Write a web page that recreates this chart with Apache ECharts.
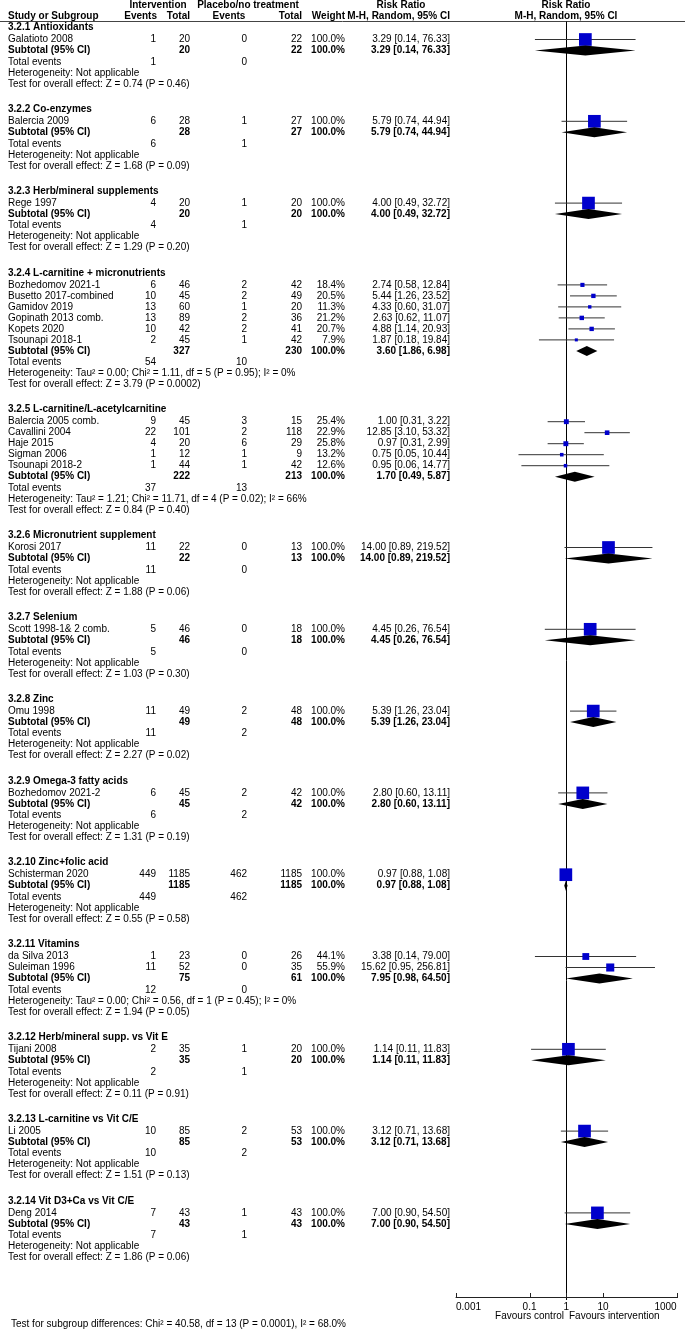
<!DOCTYPE html>
<html><head><meta charset="utf-8">
<script src="https://cdn.jsdelivr.net/npm/echarts@6/dist/echarts.min.js"></script>
<style>html,body{margin:0;padding:0;background:#fff}#c{width:685px;height:1329px}</style>
</head><body><div id="c"></div>
<script>
// ---------------- DATA ----------------
const subgroupNames = ['3.2.1 Antioxidants','3.2.2 Co-enzymes','3.2.3 Herb/mineral supplements','3.2.4 L-carnitine + micronutrients','3.2.5 L-carnitine/L-acetylcarnitine','3.2.6 Micronutrient supplement','3.2.7 Selenium','3.2.8 Zinc','3.2.9 Omega-3 fatty acids','3.2.10 Zinc+folic acid','3.2.11 Vitamins','3.2.12 Herb/mineral supp. vs Vit E','3.2.13 L-carnitine vs Vit C/E','3.2.14 Vit D3+Ca vs Vit C/E'];
const studyNames = ['Galatioto 2008','Balercia 2009','Rege 1997','Bozhedomov 2021-1','Busetto 2017-combined','Gamidov 2019','Gopinath 2013 comb.','Kopets 2020','Tsounapi 2018-1','Balercia 2005 comb.','Cavallini 2004','Haje 2015','Sigman 2006','Tsounapi 2018-2','Korosi 2017','Scott 1998-1& 2 comb.','Omu 1998','Bozhedomov 2021-2','Schisterman 2020','da Silva 2013','Suleiman 1996','Tijani 2008','Li 2005','Deng 2014'];
const studyGroup = [0,1,2,3,3,3,3,3,3,4,4,4,4,4,5,6,7,8,9,10,10,11,12,13];
const intEvents = [1,6,4,6,10,13,13,10,2,9,22,4,1,1,11,5,11,6,449,1,11,2,10,7];
const intTotal = [20,28,20,46,45,60,89,42,45,45,101,20,12,44,22,46,49,45,1185,23,52,35,85,43];
const ctlEvents = [0,1,1,2,2,1,2,2,1,3,2,6,1,1,0,0,2,2,462,0,0,1,2,1];
const ctlTotal = [22,27,20,42,49,20,36,41,42,15,118,29,9,42,13,18,48,42,1185,26,35,20,53,43];
const studyWeight = [100,100,100,18.4,20.5,11.3,21.2,20.7,7.9,25.4,22.9,25.8,13.2,12.6,100,100,100,100,100,44.1,55.9,100,100,100];
const studyRR = [3.29,5.79,4.00,2.74,5.44,4.33,2.63,4.88,1.87,1.00,12.85,0.97,0.75,0.95,14.00,4.45,5.39,2.80,0.97,3.38,15.62,1.14,3.12,7.00];
const studyLow = [0.14,0.74,0.49,0.58,1.26,0.60,0.62,1.14,0.18,0.31,3.10,0.31,0.05,0.06,0.89,0.26,1.26,0.60,0.88,0.14,0.95,0.11,0.71,0.90];
const studyHigh = [76.33,44.94,32.72,12.84,23.52,31.07,11.07,20.93,19.84,3.22,53.32,2.99,10.44,14.77,219.52,76.54,23.04,13.11,1.08,79.00,256.81,11.83,13.68,54.50];
const subIntTotal = [20,28,20,327,222,22,46,49,45,1185,75,35,85,43];
const subCtlTotal = [22,27,20,230,213,13,18,48,42,1185,61,20,53,43];
const subIntEvents = [1,6,4,54,37,11,5,11,6,449,12,2,10,7];
const subCtlEvents = [0,1,1,10,13,0,0,2,2,462,0,1,2,1];
const subRR = [3.29,5.79,4.00,3.60,1.70,14.00,4.45,5.39,2.80,0.97,7.95,1.14,3.12,7.00];
const subLow = [0.14,0.74,0.49,1.86,0.49,0.89,0.26,1.26,0.60,0.88,0.98,0.11,0.71,0.90];
const subHigh = [76.33,44.94,32.72,6.98,5.87,219.52,76.54,23.04,13.11,1.08,64.50,11.83,13.68,54.50];
const heterogeneity = ['Not applicable','Not applicable','Not applicable','Tau\u00b2 = 0.00; Chi\u00b2 = 1.11, df = 5 (P = 0.95); I\u00b2 = 0%','Tau\u00b2 = 1.21; Chi\u00b2 = 11.71, df = 4 (P = 0.02); I\u00b2 = 66%','Not applicable','Not applicable','Not applicable','Not applicable','Not applicable','Tau\u00b2 = 0.00; Chi\u00b2 = 0.56, df = 1 (P = 0.45); I\u00b2 = 0%','Not applicable','Not applicable','Not applicable'];
const overallEffect = ['Z = 0.74 (P = 0.46)','Z = 1.68 (P = 0.09)','Z = 1.29 (P = 0.20)','Z = 3.79 (P = 0.0002)','Z = 0.84 (P = 0.40)','Z = 1.88 (P = 0.06)','Z = 1.03 (P = 0.30)','Z = 2.27 (P = 0.02)','Z = 1.31 (P = 0.19)','Z = 0.55 (P = 0.58)','Z = 1.94 (P = 0.05)','Z = 0.11 (P = 0.91)','Z = 1.51 (P = 0.13)','Z = 1.86 (P = 0.06)'];
const subgroupDiff = 'Test for subgroup differences: Chi\u00b2 = 40.58, df = 13 (P = 0.0001), I\u00b2 = 68.0%';
const axisTickValues = [0.001, 0.1, 1, 10, 1000];
const axisTickLabels = ['0.001', '0.1', '1', '10', '1000'];

// ---------------- LAYOUT ----------------
const FONT = '"Liberation Sans", Arial, sans-serif';
const FS = 10;
const COL = {name: 8, ie: 156, it: 190, ce: 247, ct: 302, w: 345, ci: 450};
const Y0 = 27.5, H_HEAD = 12, H_ROW = 11, H_SUB = 11.5, H_GAP = 25.3;
const AXIS_Y = 1297;

const texts = []; // {x,y,t,align,bold}
function T(x, y, t, align, bold) { texts.push({x, y, t, align: align || 'left', bold: !!bold}); }
const ci = (r, l, h) => r.toFixed(2) + ' [' + l.toFixed(2) + ', ' + h.toFixed(2) + ']';

// headers
T(158, 5, 'Intervention', 'center', true);
T(248, 5, 'Placebo/no treatment', 'center', true);
T(401, 5, 'Risk Ratio', 'center', true);
T(566, 5, 'Risk Ratio', 'center', true);
T(COL.name, 16, 'Study or Subgroup', 'left', true);
T(COL.ie + 1, 16, 'Events', 'right', true);
T(COL.it, 16, 'Total', 'right', true);
T(229, 16, 'Events', 'center', true);
T(COL.ct, 16, 'Total', 'right', true);
T(COL.w, 16, 'Weight', 'right', true);
T(COL.ci, 16, 'M-H, Random, 95% CI', 'right', true);
T(566, 16, 'M-H, Random, 95% CI', 'center', true);

const studyPts = [], subPts = [];
let y = Y0;
for (let g = 0; g < subgroupNames.length; g++) {
  T(COL.name, y, subgroupNames[g], 'left', true);
  y += H_HEAD;
  for (let i = 0; i < studyNames.length; i++) {
    if (studyGroup[i] !== g) continue;
    T(COL.name, y, studyNames[i]);
    T(COL.ie, y, String(intEvents[i]), 'right');
    T(COL.it, y, String(intTotal[i]), 'right');
    T(COL.ce, y, String(ctlEvents[i]), 'right');
    T(COL.ct, y, String(ctlTotal[i]), 'right');
    T(COL.w, y, studyWeight[i].toFixed(1) + '%', 'right');
    T(COL.ci, y, ci(studyRR[i], studyLow[i], studyHigh[i]), 'right');
    studyPts.push([studyRR[i], y, studyLow[i], studyHigh[i], studyWeight[i]]);
    y += H_ROW;
  }
  T(COL.name, y, 'Subtotal (95% CI)', 'left', true);
  T(COL.it, y, String(subIntTotal[g]), 'right', true);
  T(COL.ct, y, String(subCtlTotal[g]), 'right', true);
  T(COL.w, y, '100.0%', 'right', true);
  T(COL.ci, y, ci(subRR[g], subLow[g], subHigh[g]), 'right', true);
  subPts.push([subRR[g], y, subLow[g], subHigh[g]]);
  y += H_SUB;
  T(COL.name, y, 'Total events');
  T(COL.ie, y, String(subIntEvents[g]), 'right');
  T(COL.ce, y, String(subCtlEvents[g]), 'right');
  y += H_ROW;
  T(COL.name, y, 'Heterogeneity: ' + heterogeneity[g]);
  y += H_ROW;
  T(COL.name, y, 'Test for overall effect: ' + overallEffect[g]);
  y += H_GAP;
}
T(564, 1316, 'Favours control', 'right');
T(569, 1316, 'Favours intervention', 'left');
T(11, 1324, subgroupDiff, 'left');

// ---------------- CHART ----------------
const chart = echarts.init(document.getElementById('c'), null, {renderer: 'canvas'});
const near = (a, b) => Math.abs(Math.log10(a) - Math.log10(b)) < 1e-6;

chart.setOption({
  animation: false,
  backgroundColor: '#fff',
  grid: [
    {left: 0, top: 0, width: 685, height: 1329},
    {left: 456, top: 0, width: 220.67, height: AXIS_Y}
  ],
  xAxis: [
    {gridIndex: 0, type: 'value', min: 0, max: 685, show: false},
    {gridIndex: 1, type: 'log', logBase: 10, min: 0.001, max: 1000, position: 'bottom',
     axisLine: {show: true, onZero: false, lineStyle: {color: '#222', width: 1}},
     axisTick: {show: false}, splitLine: {show: false},
     axisLabel: {margin: 5, color: '#000', fontFamily: FONT, fontSize: FS,
       alignMinLabel: 'left', alignMaxLabel: 'right',
       formatter: v => { for (let k = 0; k < axisTickValues.length; k++) if (near(v, axisTickValues[k])) return axisTickLabels[k]; return ''; }}}
  ],
  yAxis: [
    {gridIndex: 0, type: 'value', min: 0, max: 1329, inverse: true, show: false},
    {gridIndex: 1, type: 'value', min: 0, max: AXIS_Y, inverse: true, show: false}
  ],
  series: [
    { // table text
      type: 'custom', xAxisIndex: 0, yAxisIndex: 0, silent: true, clip: false,
      data: texts.map(o => [o.x, o.y]),
      renderItem: (params, api) => {
        const o = texts[params.dataIndex];
        const p = api.coord([api.value(0), api.value(1)]);
        return {type: 'text', x: p[0], y: p[1], style: {text: o.t, fill: '#000',
          font: (o.bold ? 'bold ' : '') + FS + 'px ' + FONT, align: o.align, verticalAlign: 'middle'}};
      }
    },
    { // header rule
      type: 'custom', xAxisIndex: 0, yAxisIndex: 0, silent: true, clip: false,
      data: [[0, 21.5, 685]],
      renderItem: (params, api) => {
        const a = api.coord([api.value(0), api.value(1)]);
        const b = api.coord([api.value(2), api.value(1)]);
        return {type: 'line', shape: {x1: a[0], y1: a[1], x2: b[0], y2: b[1]}, style: {stroke: '#444', lineWidth: 1}};
      }
    },
    { // line of no effect and axis ticks
      type: 'custom', xAxisIndex: 1, yAxisIndex: 1, silent: true, clip: false,
      data: [[1, 21.5]],
      renderItem: (params, api) => {
        const top = api.coord([api.value(0), api.value(1)]);
        const bot = api.coord([api.value(0), AXIS_Y + 3]);
        const x0 = Math.round(top[0]) + 0.5;
        const ch = [
          {type: 'line', shape: {x1: x0, y1: top[1], x2: x0, y2: bot[1]}, style: {stroke: '#000', lineWidth: 1}}
        ];
        axisTickValues.forEach(v => {
          const p = api.coord([v, AXIS_Y]);
          const x = Math.round(p[0]) + 0.5;
          ch.push({type: 'line', shape: {x1: x, y1: p[1] - 4, x2: x, y2: p[1] + 1}, style: {stroke: '#222', lineWidth: 1}});
        });
        return {type: 'group', children: ch};
      }
    },
    { // studies
      type: 'custom', xAxisIndex: 1, yAxisIndex: 1, silent: true, clip: false,
      data: studyPts,
      renderItem: (params, api) => {
        const c = api.coord([api.value(0), api.value(1)]);
        const l = api.coord([api.value(2), api.value(1)]);
        const h = api.coord([api.value(3), api.value(1)]);
        const s = 2.2 + 10.5 * api.value(4) / 100;
        return {type: 'group', children: [
          {type: 'line', shape: {x1: l[0], y1: c[1], x2: h[0], y2: c[1]}, style: {stroke: '#333', lineWidth: 1}},
          {type: 'rect', shape: {x: c[0] - s / 2, y: c[1] - s / 2, width: s, height: s}, style: {fill: '#0000CC'}}
        ]};
      }
    },
    { // subtotal diamonds
      type: 'custom', xAxisIndex: 1, yAxisIndex: 1, silent: true, clip: false,
      data: subPts,
      renderItem: (params, api) => {
        const c = api.coord([api.value(0), api.value(1)]);
        const l = api.coord([api.value(2), api.value(1)]);
        const h = api.coord([api.value(3), api.value(1)]);
        const hh = 5;
        return {type: 'polygon', shape: {points: [[l[0], c[1]], [c[0], c[1] - hh], [h[0], c[1]], [c[0], c[1] + hh]]}, style: {fill: '#000'}};
      }
    }
  ]
});
</script>
</body></html>
